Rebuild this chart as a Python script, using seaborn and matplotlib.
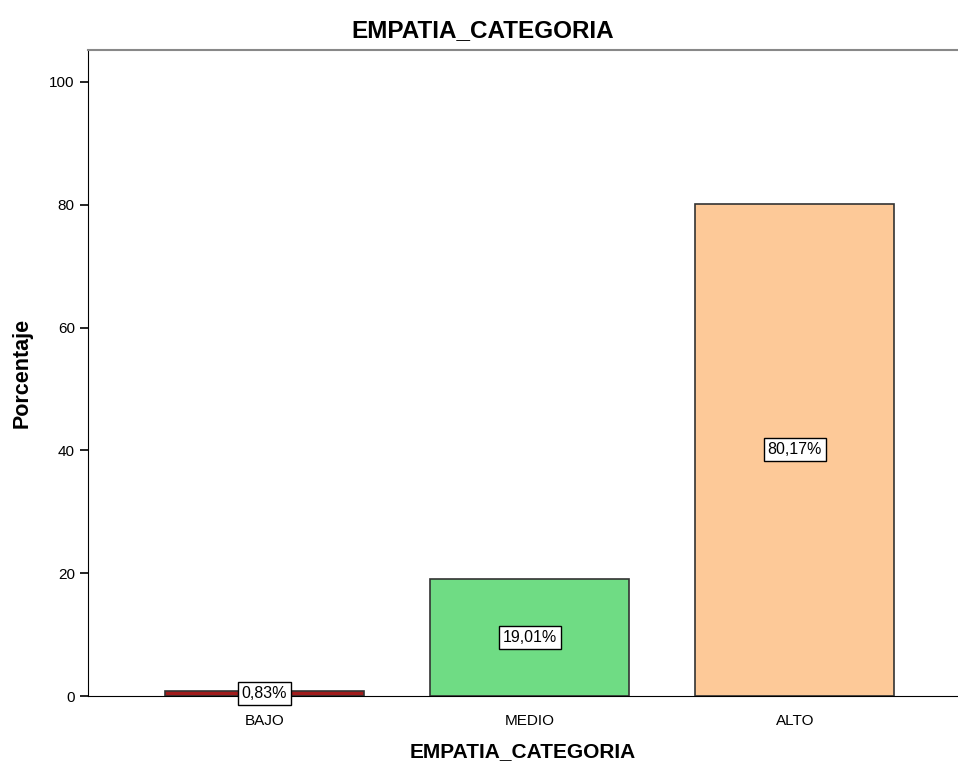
import seaborn as sns
import matplotlib.pyplot as plt
import pandas as pd

categorias = ['BAJO', 'MEDIO', 'ALTO']
porcentajes = [0.83, 19.01, 80.17]
etiquetas = ['0,83%', '19,01%', '80,17%']
colores = ['#a11c1c', '#6fdc84', '#fdc998']

df = pd.DataFrame({'cat': categorias, 'pct': porcentajes})

sns.set_style('white')
plt.rcParams['font.family'] = ['Liberation Sans', 'DejaVu Sans']
plt.rcParams['text.color'] = 'black'
plt.rcParams['axes.labelcolor'] = 'black'
plt.rcParams['xtick.color'] = 'black'
plt.rcParams['ytick.color'] = 'black'

fig = plt.figure(figsize=(9.58, 7.67), dpi=100)
ax = fig.add_axes([88/958, 71/767, 870/958, 646/767])

sns.barplot(data=df, x='cat', y='pct', hue='cat', palette=colores, width=0.75,
            saturation=1, edgecolor='#333333', linewidth=1.2, legend=False, ax=ax)

for i, (v, txt) in enumerate(zip(porcentajes, etiquetas)):
    ax.text(i, v / 2, txt, ha='center', va='center', fontsize=11.5,
            bbox=dict(boxstyle='square,pad=0.25', fc='white', ec='black', lw=1))

ax.set_xlim(-0.666, 2.615)
ax.set_ylim(0, 105.2)
ax.set_yticks([0, 20, 40, 60, 80, 100])
ax.tick_params(axis='y', length=6, width=1.2, direction='out', labelsize=11, left=True)
ax.tick_params(axis='x', length=0, labelsize=11, pad=13)

ax.spines['right'].set_visible(False)
ax.spines['top'].set_color('#888888')
ax.spines['top'].set_linewidth(1.5)
ax.spines['left'].set_color('black')
ax.spines['bottom'].set_color('black')

ax.set_xlabel('EMPATIA_CATEGORIA', fontsize=15, fontweight='bold', labelpad=10)
ax.set_ylabel('Porcentaje', fontsize=15.5, fontweight='bold', labelpad=12)
fig.suptitle('EMPATIA_CATEGORIA', x=0.504, y=0.975, fontsize=17.5, fontweight='bold')

fig.savefig('out.png', dpi=100)
